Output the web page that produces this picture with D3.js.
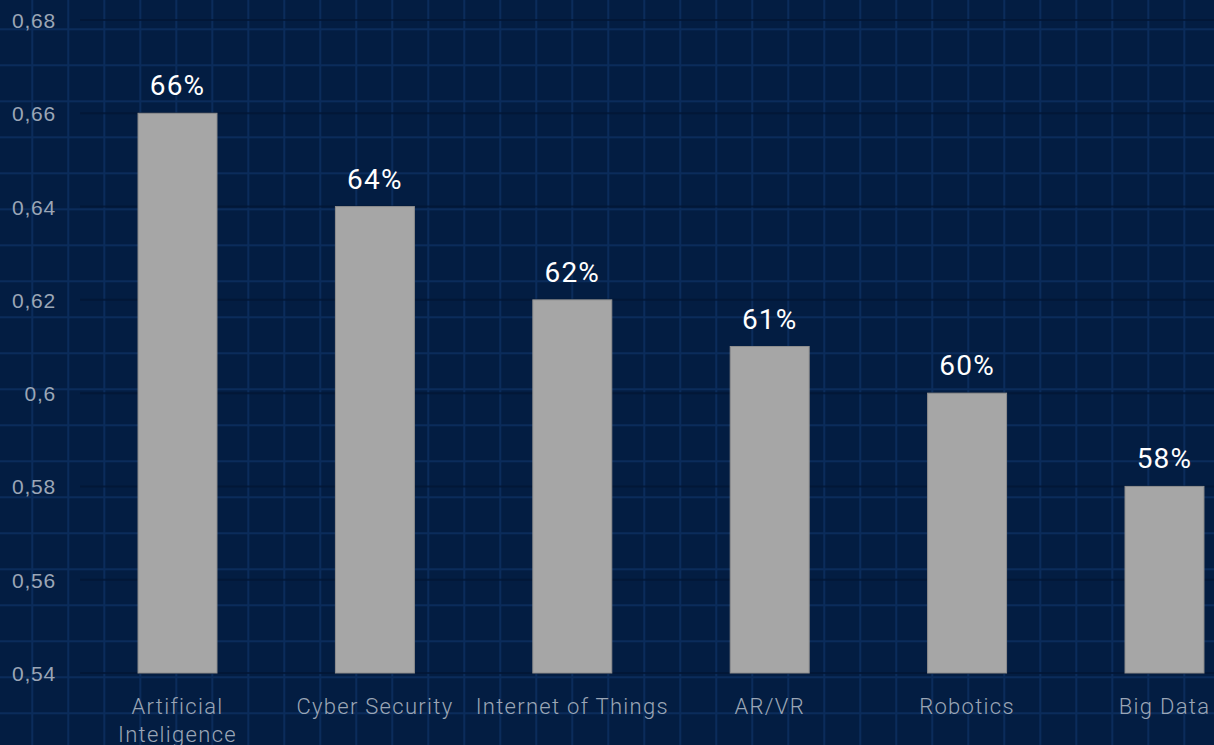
<!DOCTYPE html>
<html>
<head>
<meta charset="utf-8">
<script src="https://cdn.jsdelivr.net/npm/d3@7"></script>
<style>
  html, body { margin: 0; padding: 0; background: #031d42; overflow: hidden; }
  svg { display: block; font-family: Roboto, "Noto Sans", sans-serif; }
</style>
</head>
<body>
<svg id="chart" width="1214" height="745"></svg>
<script>
// chart data
const categories = ['Artificial\nInteligence', 'Cyber Security', 'Internet of Things', 'AR/VR', 'Robotics', 'Big Data'];
const values = [0.66, 0.64, 0.62, 0.61, 0.60, 0.58];
const yTicks = [0.54, 0.56, 0.58, 0.60, 0.62, 0.64, 0.66, 0.68];

const W = 1214, H = 745;
const margin = { top: 20, left: 80, bottom: 72 };

const svg = d3.select('#chart');

// blueprint grid background
const defs = svg.append('defs');
const pat = defs.append('pattern')
    .attr('id', 'grid')
    .attr('patternUnits', 'userSpaceOnUse')
    .attr('width', 36).attr('height', 36)
    .attr('x', 32.3 - 18).attr('y', 29.3 - 18);
pat.append('rect').attr('width', 36).attr('height', 36).attr('fill', '#031d42');
pat.append('line').attr('x1', 18).attr('x2', 18).attr('y1', 0).attr('y2', 36)
    .attr('stroke', '#0b2c5b').attr('stroke-width', 2);
pat.append('line').attr('y1', 18).attr('y2', 18).attr('x1', 0).attr('x2', 36)
    .attr('stroke', '#0b2c5b').attr('stroke-width', 2);

svg.append('rect').attr('width', W).attr('height', H).attr('fill', 'url(#grid)');

const y = d3.scaleLinear()
    .domain([0.54, 0.68])
    .range([H - margin.bottom, margin.top]);

const x = d3.scaleBand()
    .domain(categories)
    .range([margin.left, 1262])
    .paddingInner(0.6)
    .paddingOuter(0.294);

const locale = d3.formatLocale({ decimal: ',', thousands: '.', grouping: [3], currency: ['', '€'] });
const fmt = locale.format('.2~f');

// horizontal gridlines
svg.append('g')
    .selectAll('line')
    .data(yTicks)
    .join('line')
    .attr('x1', margin.left)
    .attr('x2', W)
    .attr('y1', d => y(d))
    .attr('y2', d => y(d))
    .attr('stroke', '#021634')
    .attr('stroke-opacity', 0.8)
    .attr('stroke-width', 2);

// y axis
const yAxis = svg.append('g')
    .attr('transform', `translate(56,0)`)
    .call(d3.axisLeft(y).tickValues(yTicks).tickFormat(fmt).tickSize(0).tickPadding(0));
yAxis.select('.domain').remove();
yAxis.selectAll('text')
    .attr('fill', '#9ba6b6')
    .attr('font-size', 21)
    .attr('font-weight', 300)
    .attr('letter-spacing', 0.8)
    .attr('dy', '0.36em');

// bars
svg.append('g')
    .selectAll('rect')
    .data(values)
    .join('rect')
    .attr('x', (d, i) => x(categories[i]))
    .attr('y', d => y(d))
    .attr('width', x.bandwidth())
    .attr('height', d => y(0.54) - y(d))
    .attr('fill', '#a6a6a6')
    .attr('stroke', '#8e8e8e')
    .attr('stroke-width', 1);

// value labels
svg.append('g')
    .selectAll('text')
    .data(values)
    .join('text')
    .attr('x', (d, i) => x(categories[i]) + x.bandwidth() / 2)
    .attr('y', d => y(d) - 18)
    .attr('text-anchor', 'middle')
    .attr('fill', '#ffffff')
    .attr('font-size', 28)
    .attr('font-weight', 400)
    .attr('letter-spacing', 1.2)
    .text(d => Math.round(d * 100) + '%');

// category labels
const xl = svg.append('g')
    .selectAll('text')
    .data(categories)
    .join('text')
    .attr('x', d => x(d) + x.bandwidth() / 2)
    .attr('y', 714)
    .attr('text-anchor', 'middle')
    .attr('fill', '#9ba6b6')
    .attr('font-size', 22)
    .attr('font-weight', 300)
    .attr('letter-spacing', 1.3);
xl.selectAll('tspan')
    .data(d => d.split('\n'))
    .join('tspan')
    .attr('x', function () { return d3.select(this.parentNode).attr('x'); })
    .attr('dy', (d, i) => i === 0 ? 0 : 28)
    .text(d => d);
</script>
</body>
</html>
